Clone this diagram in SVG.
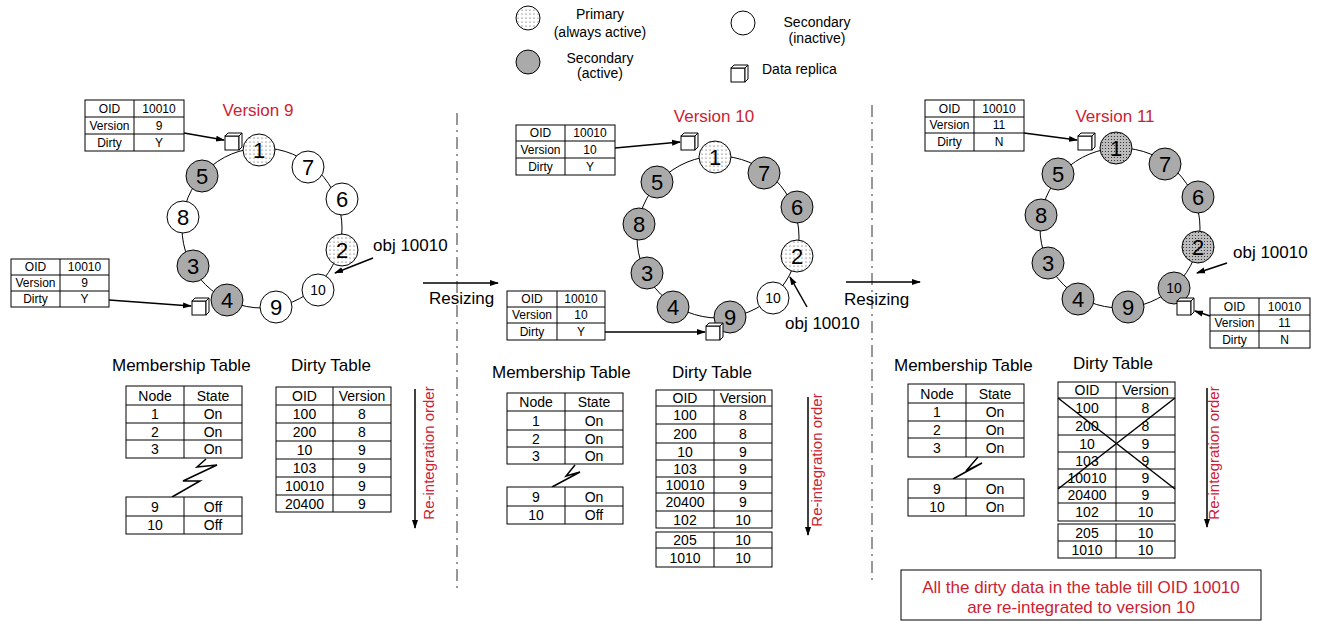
<svg xmlns="http://www.w3.org/2000/svg" width="1324" height="622" viewBox="0 0 1324 622">
<style>
text{font-family:"Liberation Sans",Arial,sans-serif;fill:#000}
.s{font-size:12px;text-anchor:middle}
.m{font-size:14px;text-anchor:middle}
.l{font-size:17px}
.lg{font-size:14px;text-anchor:middle}
.red{fill:#cc2233}
.num{font-size:22px;text-anchor:middle}
.num2{font-size:14px;text-anchor:middle}
.tb rect{fill:#fff;stroke:#000;stroke-width:1}
.tb line{stroke:#000;stroke-width:1}
.ring{fill:none;stroke:#000;stroke-width:1}
.nd{stroke:#000;stroke-width:1}
.pri{fill:url(#dots)}
.pri2{fill:url(#dotsDark)}
.act{fill:#aaaaaa}
.ina{fill:#fff}
.arr{stroke:#000;stroke-width:1.5;fill:none;marker-end:url(#ah)}
.sep{stroke:#777;stroke-width:1.5;stroke-dasharray:12 5 2 5}
.zz{fill:none;stroke:#000;stroke-width:1.5}
</style>
<defs>
<pattern id="dots" width="4" height="4" patternUnits="userSpaceOnUse"><rect width="4" height="4" fill="#fff"/><circle cx="2" cy="2" r="0.55" fill="#333"/></pattern>
<pattern id="dotsDark" width="3" height="3" patternUnits="userSpaceOnUse"><rect width="3" height="3" fill="#bdbdbd"/><circle cx="1.5" cy="1.5" r="0.6" fill="#222"/></pattern>
<marker id="ah" markerWidth="9" markerHeight="8" refX="8" refY="4" orient="auto" markerUnits="userSpaceOnUse"><path d="M0,1 L9,4 L0,7 z" fill="#000"/></marker>
<g id="cube"><rect x="0" y="3" width="14" height="14" fill="#fff" stroke="#000"/><path d="M0,3 L3,0 L17,0 L14,3 Z M14,3 L17,0 L17,14 L14,17 Z" fill="#fff" stroke="#000"/></g>
</defs>
<rect width="1324" height="622" fill="#fff"/>

<g id="legend">
<circle class="nd pri" cx="528" cy="18" r="12"/>
<text class="lg" x="600" y="19">Primary</text>
<text class="lg" x="600" y="37">(always active)</text>
<circle class="nd act" cx="528" cy="62" r="12"/>
<text class="lg" x="600" y="63">Secondary</text>
<text class="lg" x="600" y="78">(active)</text>
<circle class="nd ina" cx="743" cy="23" r="12"/>
<text class="lg" x="817" y="27">Secondary</text>
<text class="lg" x="817" y="43">(inactive)</text>
<use href="#cube" x="731" y="65"/>
<text x="762" y="74" style="font-size:14px">Data replica</text>
</g>

<g id="separators">
<line class="sep" x1="457" y1="113" x2="457" y2="590"/>
<line class="sep" x1="872" y1="105" x2="872" y2="583"/>
</g>

<!-- Panel 1 -->
<g id="panel1-ring">
<text class="l red" x="258" y="116" text-anchor="middle">Version 9</text>
<circle class="ring" cx="262" cy="228" r="80"/>
<g id="p1n1"><circle class="nd pri" cx="259" cy="150" r="16"/><text class="num" x="259" y="158">1</text></g>
<g id="p1n7"><circle class="nd ina" cx="308" cy="167" r="16"/><text class="num" x="308" y="175">7</text></g>
<g id="p1n6"><circle class="nd ina" cx="342" cy="199" r="16"/><text class="num" x="342" y="207">6</text></g>
<g id="p1n2"><circle class="nd pri" cx="342" cy="250" r="16"/><text class="num" x="342" y="258">2</text></g>
<g id="p1n10"><circle class="nd ina" cx="318" cy="290" r="16"/><text class="num2" x="318" y="295">10</text></g>
<g id="p1n9"><circle class="nd ina" cx="276" cy="307" r="16"/><text class="num" x="276" y="315">9</text></g>
<g id="p1n4"><circle class="nd act" cx="227" cy="300" r="16"/><text class="num" x="227" y="308">4</text></g>
<g id="p1n3"><circle class="nd act" cx="193" cy="266" r="16"/><text class="num" x="193" y="274">3</text></g>
<g id="p1n8"><circle class="nd ina" cx="183" cy="217" r="16"/><text class="num" x="183" y="225">8</text></g>
<g id="p1n5"><circle class="nd act" cx="202" cy="176" r="16"/><text class="num" x="202" y="184">5</text></g>
<use href="#cube" x="225" y="133"/>
<use href="#cube" x="192" y="298"/>
<text class="l" x="373" y="251">obj 10010</text>
</g>
<g id="p1-rep-top" class="tb">
<rect x="85" y="100" width="99" height="51"/>
<line x1="85" y1="117" x2="184" y2="117"/><line x1="85" y1="134" x2="184" y2="134"/><line x1="134" y1="100" x2="134" y2="151"/>
<text class="s" x="109.5" y="112.5">OID</text><text class="s" x="159" y="112.5">10010</text>
<text class="s" x="109.5" y="129.5">Version</text><text class="s" x="159" y="129.5">9</text>
<text class="s" x="109.5" y="146.5">Dirty</text><text class="s" x="159" y="146.5">Y</text>
</g>
<g id="p1-rep-bot" class="tb">
<rect x="11" y="259" width="98" height="48"/>
<line x1="11" y1="275" x2="109" y2="275"/><line x1="11" y1="291" x2="109" y2="291"/><line x1="60" y1="259" x2="60" y2="307"/>
<text class="s" x="35.5" y="271">OID</text><text class="s" x="84.5" y="271">10010</text>
<text class="s" x="35.5" y="287">Version</text><text class="s" x="84.5" y="287">9</text>
<text class="s" x="35.5" y="303">Dirty</text><text class="s" x="84.5" y="303">Y</text>
</g>
<g id="p1-membership" class="tb">
<text class="l" x="112" y="371">Membership Table</text>
<rect x="126" y="386" width="116" height="72"/>
<line x1="126" y1="405" x2="242" y2="405"/><line x1="126" y1="423" x2="242" y2="423"/><line x1="126" y1="440" x2="242" y2="440"/><line x1="184" y1="386" x2="184" y2="458"/>
<text class="m" x="155" y="400.5">Node</text><text class="m" x="213" y="400.5">State</text>
<text class="m" x="155" y="419">1</text><text class="m" x="213" y="419">On</text>
<text class="m" x="155" y="436.5">2</text><text class="m" x="213" y="436.5">On</text>
<text class="m" x="155" y="454">3</text><text class="m" x="213" y="454">On</text>
<polyline class="zz" points="206,459 197,467 217,465 183,481 200,481 172,497"/>
<rect x="126" y="497" width="116" height="37"/>
<line x1="126" y1="516" x2="242" y2="516"/><line x1="184" y1="497" x2="184" y2="534"/>
<text class="m" x="155" y="511.5">9</text><text class="m" x="213" y="511.5">Off</text>
<text class="m" x="155" y="530">10</text><text class="m" x="213" y="530">Off</text>
</g>
<g id="p1-dirty" class="tb">
<text class="l" x="291" y="371">Dirty Table</text>
<rect x="276" y="387" width="115" height="125"/>
<line x1="276" y1="405" x2="391" y2="405"/><line x1="276" y1="423" x2="391" y2="423"/><line x1="276" y1="441" x2="391" y2="441"/><line x1="276" y1="459" x2="391" y2="459"/><line x1="276" y1="477" x2="391" y2="477"/><line x1="276" y1="495" x2="391" y2="495"/><line x1="333" y1="387" x2="333" y2="512"/>
<text class="m" x="304.5" y="401">OID</text><text class="m" x="362" y="401">Version</text>
<text class="m" x="304.5" y="419">100</text><text class="m" x="362" y="419">8</text>
<text class="m" x="304.5" y="437">200</text><text class="m" x="362" y="437">8</text>
<text class="m" x="304.5" y="455">10</text><text class="m" x="362" y="455">9</text>
<text class="m" x="304.5" y="473">103</text><text class="m" x="362" y="473">9</text>
<text class="m" x="304.5" y="491">10010</text><text class="m" x="362" y="491">9</text>
<text class="m" x="304.5" y="508.5">20400</text><text class="m" x="362" y="508.5">9</text>
</g>
<text class="red" transform="translate(434,453) rotate(-90)" style="font-size:15px" text-anchor="middle">Re-integration order</text>

<!-- Panel 2 -->
<g id="panel2-ring">
<text class="l red" x="714" y="122" text-anchor="middle">Version 10</text>
<circle class="ring" cx="718" cy="237" r="81"/>
<g id="p2n1"><circle class="nd pri" cx="715" cy="157" r="16"/><text class="num" x="715" y="165">1</text></g>
<g id="p2n7"><circle class="nd act" cx="764" cy="173" r="16"/><text class="num" x="764" y="181">7</text></g>
<g id="p2n6"><circle class="nd act" cx="797" cy="207" r="16"/><text class="num" x="797" y="215">6</text></g>
<g id="p2n2"><circle class="nd pri" cx="797" cy="256" r="16"/><text class="num" x="797" y="264">2</text></g>
<g id="p2n10"><circle class="nd ina" cx="773" cy="298" r="16"/><text class="num2" x="773" y="303">10</text></g>
<g id="p2n9"><circle class="nd act" cx="730" cy="317" r="16"/><text class="num" x="730" y="325">9</text></g>
<g id="p2n4"><circle class="nd act" cx="673" cy="307" r="16"/><text class="num" x="673" y="315">4</text></g>
<g id="p2n3"><circle class="nd act" cx="647" cy="273" r="16"/><text class="num" x="647" y="281">3</text></g>
<g id="p2n8"><circle class="nd act" cx="639" cy="224" r="16"/><text class="num" x="639" y="232">8</text></g>
<g id="p2n5"><circle class="nd act" cx="657" cy="182" r="16"/><text class="num" x="657" y="190">5</text></g>
<use href="#cube" x="681" y="133"/>
<use href="#cube" x="706" y="323"/>
<text class="l" x="785" y="329">obj 10010</text>
</g>
<g id="p2-rep-top" class="tb">
<rect x="516" y="125" width="99" height="50"/>
<line x1="516" y1="141" x2="615" y2="141"/><line x1="516" y1="158" x2="615" y2="158"/><line x1="565" y1="125" x2="565" y2="175"/>
<text class="s" x="540.5" y="137">OID</text><text class="s" x="590" y="137">10010</text>
<text class="s" x="540.5" y="153.5">Version</text><text class="s" x="590" y="153.5">10</text>
<text class="s" x="540.5" y="170.5">Dirty</text><text class="s" x="590" y="170.5">Y</text>
</g>
<g id="p2-rep-bot" class="tb">
<rect x="507" y="291" width="98" height="49"/>
<line x1="507" y1="307" x2="605" y2="307"/><line x1="507" y1="323" x2="605" y2="323"/><line x1="557" y1="291" x2="557" y2="340"/>
<text class="s" x="532" y="303">OID</text><text class="s" x="581" y="303">10010</text>
<text class="s" x="532" y="319">Version</text><text class="s" x="581" y="319">10</text>
<text class="s" x="532" y="335.5">Dirty</text><text class="s" x="581" y="335.5">Y</text>
</g>
<g id="p2-membership" class="tb">
<text class="l" x="492" y="378">Membership Table</text>
<rect x="507" y="393" width="116" height="71"/>
<line x1="507" y1="411" x2="623" y2="411"/><line x1="507" y1="430" x2="623" y2="430"/><line x1="507" y1="447" x2="623" y2="447"/><line x1="565" y1="393" x2="565" y2="464"/>
<text class="m" x="536" y="407">Node</text><text class="m" x="594" y="407">State</text>
<text class="m" x="536" y="425.5">1</text><text class="m" x="594" y="425.5">On</text>
<text class="m" x="536" y="443.5">2</text><text class="m" x="594" y="443.5">On</text>
<text class="m" x="536" y="460.5">3</text><text class="m" x="594" y="460.5">On</text>
<polyline class="zz" points="575,465 566,476 580,472 552,487"/>
<rect x="507" y="487" width="116" height="37"/>
<line x1="507" y1="506" x2="623" y2="506"/><line x1="565" y1="487" x2="565" y2="524"/>
<text class="m" x="536" y="501.5">9</text><text class="m" x="594" y="501.5">On</text>
<text class="m" x="536" y="520">10</text><text class="m" x="594" y="520">Off</text>
</g>
<g id="p2-dirty" class="tb">
<text class="l" x="672" y="378">Dirty Table</text>
<rect x="656" y="390" width="116" height="138"/>
<line x1="656" y1="406" x2="772" y2="406"/><line x1="656" y1="424" x2="772" y2="424"/><line x1="656" y1="443" x2="772" y2="443"/><line x1="656" y1="460" x2="772" y2="460"/><line x1="656" y1="477" x2="772" y2="477"/><line x1="656" y1="493" x2="772" y2="493"/><line x1="656" y1="511" x2="772" y2="511"/><line x1="714" y1="390" x2="714" y2="528"/>
<rect x="656" y="532" width="116" height="35"/>
<line x1="656" y1="548" x2="772" y2="548"/><line x1="714" y1="532" x2="714" y2="567"/>
<text class="m" x="685" y="403">OID</text><text class="m" x="743" y="403">Version</text>
<text class="m" x="685" y="420">100</text><text class="m" x="743" y="420">8</text>
<text class="m" x="685" y="438.5">200</text><text class="m" x="743" y="438.5">8</text>
<text class="m" x="685" y="456.5">10</text><text class="m" x="743" y="456.5">9</text>
<text class="m" x="685" y="473.5">103</text><text class="m" x="743" y="473.5">9</text>
<text class="m" x="685" y="490">10010</text><text class="m" x="743" y="490">9</text>
<text class="m" x="685" y="507">20400</text><text class="m" x="743" y="507">9</text>
<text class="m" x="685" y="524.5">102</text><text class="m" x="743" y="524.5">10</text>
<text class="m" x="685" y="545">205</text><text class="m" x="743" y="545">10</text>
<text class="m" x="685" y="562.5">1010</text><text class="m" x="743" y="562.5">10</text>
</g>
<text class="red" transform="translate(822,460) rotate(-90)" style="font-size:15px" text-anchor="middle">Re-integration order</text>

<!-- Panel 3 -->
<g id="panel3-ring">
<text class="l red" x="1115" y="122" text-anchor="middle">Version 11</text>
<circle class="ring" cx="1120" cy="228" r="80"/>
<g id="p3n1"><circle class="nd pri2" cx="1116" cy="148" r="16"/><text class="num" x="1116" y="156">1</text></g>
<g id="p3n7"><circle class="nd act" cx="1165" cy="164" r="16"/><text class="num" x="1165" y="172">7</text></g>
<g id="p3n6"><circle class="nd act" cx="1198" cy="197" r="16"/><text class="num" x="1198" y="205">6</text></g>
<g id="p3n2"><circle class="nd pri2" cx="1198" cy="247" r="16"/><text class="num" x="1198" y="255">2</text></g>
<g id="p3n10"><circle class="nd act" cx="1174" cy="288" r="16"/><text class="num2" x="1174" y="293">10</text></g>
<g id="p3n9"><circle class="nd act" cx="1128" cy="307" r="16"/><text class="num" x="1128" y="315">9</text></g>
<g id="p3n4"><circle class="nd act" cx="1078" cy="299" r="16"/><text class="num" x="1078" y="307">4</text></g>
<g id="p3n3"><circle class="nd act" cx="1048" cy="263" r="16"/><text class="num" x="1048" y="271">3</text></g>
<g id="p3n8"><circle class="nd act" cx="1041" cy="215" r="16"/><text class="num" x="1041" y="223">8</text></g>
<g id="p3n5"><circle class="nd act" cx="1058" cy="174" r="16"/><text class="num" x="1058" y="182">5</text></g>
<use href="#cube" x="1078" y="133"/>
<use href="#cube" x="1177" y="298"/>
<text class="l" x="1233" y="258">obj 10010</text>
</g>
<g id="p3-rep-top" class="tb">
<rect x="925" y="100" width="99" height="51"/>
<line x1="925" y1="117" x2="1024" y2="117"/><line x1="925" y1="133" x2="1024" y2="133"/><line x1="974" y1="100" x2="974" y2="151"/>
<text class="s" x="949.5" y="112.5">OID</text><text class="s" x="999" y="112.5">10010</text>
<text class="s" x="949.5" y="129">Version</text><text class="s" x="999" y="129">11</text>
<text class="s" x="949.5" y="146">Dirty</text><text class="s" x="999" y="146">N</text>
</g>
<g id="p3-rep-bot" class="tb">
<rect x="1210" y="298" width="100" height="50"/>
<line x1="1210" y1="315" x2="1310" y2="315"/><line x1="1210" y1="331" x2="1310" y2="331"/><line x1="1259" y1="298" x2="1259" y2="348"/>
<text class="s" x="1234.5" y="310.5">OID</text><text class="s" x="1284.5" y="310.5">10010</text>
<text class="s" x="1234.5" y="327">Version</text><text class="s" x="1284.5" y="327">11</text>
<text class="s" x="1234.5" y="343.5">Dirty</text><text class="s" x="1284.5" y="343.5">N</text>
</g>
<g id="p3-membership" class="tb">
<text class="l" x="894" y="371">Membership Table</text>
<rect x="908" y="384" width="116" height="73"/>
<line x1="908" y1="403" x2="1024" y2="403"/><line x1="908" y1="421" x2="1024" y2="421"/><line x1="908" y1="438" x2="1024" y2="438"/><line x1="966" y1="384" x2="966" y2="457"/>
<text class="m" x="937" y="398.5">Node</text><text class="m" x="995" y="398.5">State</text>
<text class="m" x="937" y="417">1</text><text class="m" x="995" y="417">On</text>
<text class="m" x="937" y="434.5">2</text><text class="m" x="995" y="434.5">On</text>
<text class="m" x="937" y="452.5">3</text><text class="m" x="995" y="452.5">On</text>
<polyline class="zz" points="978,457 966,471 982,463 953,479"/>
<rect x="908" y="479" width="116" height="37"/>
<line x1="908" y1="498" x2="1024" y2="498"/><line x1="966" y1="479" x2="966" y2="516"/>
<text class="m" x="937" y="493.5">9</text><text class="m" x="995" y="493.5">On</text>
<text class="m" x="937" y="512">10</text><text class="m" x="995" y="512">On</text>
</g>
<g id="p3-dirty" class="tb">
<text class="l" x="1073" y="369">Dirty Table</text>
<rect x="1058" y="382" width="117" height="139"/>
<line x1="1058" y1="398" x2="1175" y2="398"/><line x1="1058" y1="417" x2="1175" y2="417"/><line x1="1058" y1="435" x2="1175" y2="435"/><line x1="1058" y1="452" x2="1175" y2="452"/><line x1="1058" y1="469" x2="1175" y2="469"/><line x1="1058" y1="487" x2="1175" y2="487"/><line x1="1058" y1="503" x2="1175" y2="503"/><line x1="1116" y1="382" x2="1116" y2="521"/>
<rect x="1058" y="524" width="117" height="34"/>
<line x1="1058" y1="541" x2="1175" y2="541"/><line x1="1116" y1="524" x2="1116" y2="558"/>
<text class="m" x="1087" y="395">OID</text><text class="m" x="1145.5" y="395">Version</text>
<text class="m" x="1087" y="412.5">100</text><text class="m" x="1145.5" y="412.5">8</text>
<text class="m" x="1087" y="431">200</text><text class="m" x="1145.5" y="431">8</text>
<text class="m" x="1087" y="448.5">10</text><text class="m" x="1145.5" y="448.5">9</text>
<text class="m" x="1087" y="465.5">103</text><text class="m" x="1145.5" y="465.5">9</text>
<text class="m" x="1087" y="483">10010</text><text class="m" x="1145.5" y="483">9</text>
<text class="m" x="1087" y="500">20400</text><text class="m" x="1145.5" y="500">9</text>
<text class="m" x="1087" y="517">102</text><text class="m" x="1145.5" y="517">10</text>
<text class="m" x="1087" y="537.5">205</text><text class="m" x="1145.5" y="537.5">10</text>
<text class="m" x="1087" y="554.5">1010</text><text class="m" x="1145.5" y="554.5">10</text>
<line x1="1058" y1="398" x2="1175" y2="489" style="stroke-width:1.5"/>
<line x1="1175" y1="398" x2="1058" y2="489" style="stroke-width:1.5"/>
</g>
<text class="red" transform="translate(1219,453) rotate(-90)" style="font-size:15px" text-anchor="middle">Re-integration order</text>
<g id="note">
<rect x="901" y="570" width="360" height="50" fill="#fff" stroke="#000" stroke-width="1"/>
<text class="red" x="1081" y="593" text-anchor="middle" style="font-size:17px">All the dirty data in the table till OID 10010</text>
<text class="red" x="1081" y="613" text-anchor="middle" style="font-size:17px">are re-integrated to version 10</text>
</g>

<g id="resizing">
<text class="l" x="429" y="304">Resizing</text>
<text class="l" x="844" y="305">Resizing</text>
</g>

<g id="connectors">
<line class="arr" x1="184" y1="133" x2="224" y2="140"/>
<line class="arr" x1="373" y1="258" x2="335" y2="273"/>
<line class="arr" x1="109" y1="300" x2="191" y2="306"/>
<line class="arr" x1="615" y1="148" x2="680" y2="142"/>
<line class="arr" x1="807" y1="307" x2="790" y2="277"/>
<line class="arr" x1="605" y1="332" x2="705" y2="332"/>
<line class="arr" x1="1024" y1="133" x2="1077" y2="140"/>
<line class="arr" x1="1227" y1="263" x2="1197" y2="273"/>
<line class="arr" x1="1210" y1="316" x2="1195" y2="311"/>
<line class="arr" x1="423" y1="283" x2="498" y2="283"/>
<line class="arr" x1="846" y1="282" x2="920" y2="282"/>
<line class="arr" x1="415" y1="389" x2="415" y2="528"/>
<line class="arr" x1="808" y1="397" x2="808" y2="535"/>
<line class="arr" x1="1207" y1="388" x2="1207" y2="527"/>
</g>
</svg>
